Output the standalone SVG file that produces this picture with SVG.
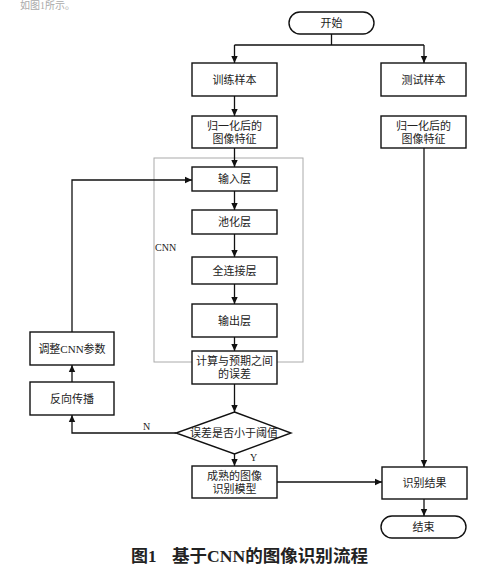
<svg xmlns="http://www.w3.org/2000/svg" width="501" height="572" viewBox="0 0 501 572">
<defs>
<marker id="arr" markerWidth="8" markerHeight="8" refX="7" refY="4" orient="auto" markerUnits="userSpaceOnUse">
<path d="M0,0.8 L7,4 L0,7.2 Z" fill="#111"/>
</marker>
<style>
.box{fill:#fff;stroke:#111;stroke-width:1.4}
.t{font-family:"Liberation Serif","Noto Sans CJK SC",serif;font-size:11px;fill:#222;text-anchor:middle;dominant-baseline:central}
.c{fill:none;stroke:#111;stroke-width:1.3}
.lbl{font-family:"Liberation Serif","Noto Sans CJK SC",serif;font-size:10px;fill:#222}
</style>
</defs>
<rect width="501" height="572" fill="#fff"/>
<text x="20" y="9" font-family="'Liberation Serif','Noto Sans CJK SC',serif" font-size="10" fill="#aaa">如图1所示。</text>

<g id="cnn-frame">
<rect x="154" y="158" width="149" height="204" fill="none" stroke="#aaa" stroke-width="1"/>
<text class="lbl" x="155" y="251">CNN</text>
</g>

<g id="connectors">
<path class="c" d="M331.5,34 V45 M234.5,45 H424 M234.5,45 V63" marker-end="url(#arr)"/>
<path class="c" d="M424,45 V63" marker-end="url(#arr)"/>
<path class="c" d="M234.5,96 V116" marker-end="url(#arr)"/>
<path class="c" d="M234.5,148 V167" marker-end="url(#arr)"/>
<path class="c" d="M234.5,191 V210" marker-end="url(#arr)"/>
<path class="c" d="M234.5,234 V257" marker-end="url(#arr)"/>
<path class="c" d="M234.5,284 V304" marker-end="url(#arr)"/>
<path class="c" d="M234.5,337 V351" marker-end="url(#arr)"/>
<path class="c" d="M234.5,384 V412" marker-end="url(#arr)"/>
<path class="c" d="M234.5,454 V466" marker-end="url(#arr)"/>
<path class="c" d="M176,433 H72 V415" marker-end="url(#arr)"/>
<path class="c" d="M72,382 V365" marker-end="url(#arr)"/>
<path class="c" d="M72,332 V180 H192" marker-end="url(#arr)"/>
<path class="c" d="M424,148 V467" marker-end="url(#arr)"/>
<path class="c" d="M277,482 H382" marker-end="url(#arr)"/>
<path class="c" d="M424,499 V516" marker-end="url(#arr)"/>
<text class="lbl" x="143" y="430">N</text>
<text class="lbl" x="250" y="461">Y</text>
</g>

<g id="start">
<rect class="box" x="289" y="12" width="85" height="22" rx="11"/>
<text class="t" x="331.5" y="23">开始</text>
</g>
<g id="train">
<rect class="box" x="192" y="63" width="85" height="33"/>
<text class="t" x="234.5" y="79.5">训练样本</text>
</g>
<g id="test">
<rect class="box" x="381" y="63" width="85" height="33"/>
<text class="t" x="423.5" y="79.5">测试样本</text>
</g>
<g id="norm-train">
<rect class="box" x="192" y="116" width="85" height="32"/>
<text class="t" x="234.5" y="125.5">归一化后的</text>
<text class="t" x="234.5" y="138.5">图像特征</text>
</g>
<g id="norm-test">
<rect class="box" x="381" y="116" width="85" height="32"/>
<text class="t" x="423.5" y="125.5">归一化后的</text>
<text class="t" x="423.5" y="138.5">图像特征</text>
</g>
<g id="input">
<rect class="box" x="192" y="167" width="85" height="24"/>
<text class="t" x="234.5" y="179">输入层</text>
</g>
<g id="pool">
<rect class="box" x="192" y="210" width="85" height="24"/>
<text class="t" x="234.5" y="222">池化层</text>
</g>
<g id="fc">
<rect class="box" x="192" y="257" width="85" height="27"/>
<text class="t" x="234.5" y="270.5">全连接层</text>
</g>
<g id="output">
<rect class="box" x="192" y="304" width="85" height="33"/>
<text class="t" x="234.5" y="320.5">输出层</text>
</g>
<g id="error">
<rect class="box" x="192" y="351" width="85" height="33"/>
<text class="t" x="234.5" y="361">计算与预期之间</text>
<text class="t" x="234.5" y="374">的误差</text>
</g>
<g id="decision">
<path class="box" d="M234.5,412 L291,433 L234.5,454 L176,433 Z"/>
<text class="t" x="234" y="433">误差是否小于阈值</text>
</g>
<g id="model">
<rect class="box" x="192" y="466" width="85" height="32"/>
<text class="t" x="234.5" y="475.5">成熟的图像</text>
<text class="t" x="234.5" y="488.5">识别模型</text>
</g>
<g id="result">
<rect class="box" x="382" y="467" width="85" height="32"/>
<text class="t" x="424.5" y="483">识别结果</text>
</g>
<g id="end">
<rect class="box" x="381" y="516" width="85" height="22" rx="11"/>
<text class="t" x="423.5" y="527">结束</text>
</g>
<g id="backprop">
<rect class="box" x="30" y="382" width="84" height="33"/>
<text class="t" x="72" y="398.5">反向传播</text>
</g>
<g id="adjust">
<rect class="box" x="30" y="332" width="84" height="33"/>
<text class="t" x="72" y="348.5">调整CNN参数</text>
</g>
<g id="caption">
<text font-family="'Liberation Serif','Noto Sans CJK SC',serif" font-size="17" font-weight="bold" fill="#222" y="562"><tspan x="131">图1</tspan><tspan x="172" textLength="196" lengthAdjust="spacingAndGlyphs">基于CNN的图像识别流程</tspan></text>
</g>
</svg>
